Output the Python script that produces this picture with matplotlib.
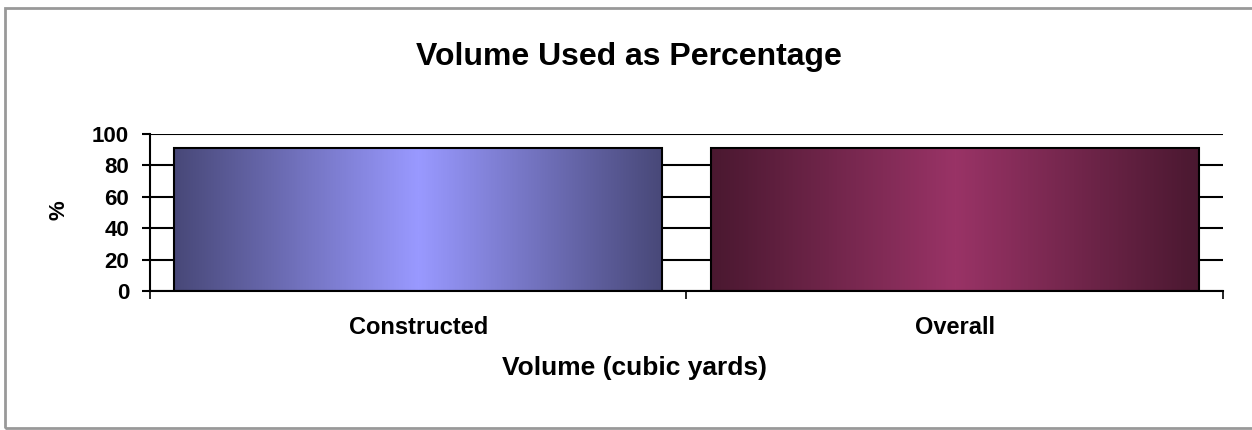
import numpy as np
import matplotlib
matplotlib.use("Agg")
import matplotlib.pyplot as plt
from matplotlib.colors import LinearSegmentedColormap
from matplotlib.patches import Rectangle

plt.rcParams['font.family'] = ['Liberation Sans', 'DejaVu Sans']
plt.rcParams['font.weight'] = 'bold'

# data
categories = ['Constructed', 'Overall']
percent_used = [91, 91]
y_ticks = [0, 20, 40, 60, 80, 100]

# gradient colours (edge -> centre -> edge) for each bar
edge_colors = ['#484878', '#4a1830']
centre_colors = ['#9999ff', '#993366']

fig = plt.figure(figsize=(12.52, 4.3), dpi=100)
ax = fig.add_axes([0.1198, 0.3233, 0.857, 0.3651])

x = np.arange(len(categories))
bars = ax.bar(x, percent_used, width=0.91, facecolor='none',
              edgecolor='black', linewidth=1.5, zorder=3)

# horizontal gradient inside every bar
grad = np.abs(np.linspace(-1, 1, 256))[None, :]
for bar, c_edge, c_mid in zip(bars, edge_colors, centre_colors):
    cmap = LinearSegmentedColormap.from_list('g', [c_mid, c_edge])
    x0 = bar.get_x()
    ax.imshow(grad, cmap=cmap, aspect='auto', zorder=2,
              extent=[x0, x0 + bar.get_width(), 0, bar.get_height()])

ax.set_xlim(-0.5, len(categories) - 0.5)
ax.set_ylim(0, 100)
ax.set_yticks(y_ticks)
ax.set_xticks(x)
ax.set_xticklabels(categories, fontsize=17, fontweight='bold')
ax.set_xticks(np.arange(len(categories) + 1) - 0.5, minor=True)
ax.tick_params(axis='x', which='major', length=0, pad=18)
ax.tick_params(axis='x', which='minor', length=6, width=1.2)
ax.tick_params(axis='y', length=6, width=1.5, labelsize=16, pad=9)
for lbl in ax.get_yticklabels():
    lbl.set_fontweight('bold')

ax.grid(axis='y', color='black', linewidth=1.5, zorder=1)
ax.set_axisbelow(True)
ax.spines['top'].set_visible(False)
ax.spines['right'].set_visible(False)
ax.spines['left'].set_linewidth(1.5)
ax.spines['bottom'].set_linewidth(1.5)

fig.text(59 / 1252, 1 - 210 / 430, '%', rotation=90, ha='center', va='center',
         fontsize=16, fontweight='bold')
fig.text(634 / 1252, 1 - 368 / 430, 'Volume (cubic yards)', ha='center',
         va='center', fontsize=19, fontweight='bold')
fig.text(629 / 1252, 1 - 57.5 / 430, 'Volume Used as Percentage', ha='center',
         va='center', fontsize=23, fontweight='bold')

# grey frame around the chart area
fig.patches.append(Rectangle((5 / 1252, 2 / 430), 1.1, 420 / 430,
                             transform=fig.transFigure, fill=False,
                             edgecolor='#999999', linewidth=2))

plt.savefig('out.png', dpi=100)
